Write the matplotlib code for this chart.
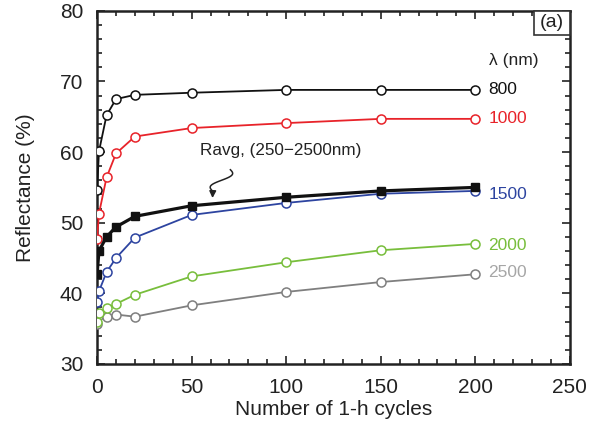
import matplotlib
matplotlib.use("Agg")
import matplotlib.pyplot as plt
import numpy as np
from matplotlib.ticker import MultipleLocator
from matplotlib.patches import Rectangle

plt.rcParams['font.family'] = ['Liberation Sans', 'DejaVu Sans']

cycles = [0, 1, 5, 10, 20, 50, 100, 150, 200]

r800 = [54.6, 60.1, 65.2, 67.5, 68.1, 68.4, 68.8, 68.8, 68.8]
r1000 = [47.7, 51.3, 56.4, 59.8, 62.2, 63.4, 64.1, 64.7, 64.7]
r1500 = [38.8, 40.3, 43.0, 45.0, 47.9, 51.1, 52.8, 54.1, 54.5]
r2000 = [36.0, 37.2, 37.9, 38.5, 39.8, 42.4, 44.4, 46.1, 47.0]
r2500 = [35.7, 37.0, 36.7, 37.0, 36.7, 38.3, 40.2, 41.6, 42.7]
ravg = [42.7, 46.0, 48.0, 49.4, 50.9, 52.4, 53.6, 54.5, 55.0]

labels = ['800', '1000', '1500', '2000', '2500']
colors = ['#111111', '#e8232a', '#2d44a0', '#78be3c', '#7f7f7f']
label_colors = ['#111111', '#e8232a', '#2d44a0', '#78be3c', '#a6a6a6']
label_y = [68.9, 64.7, 54.0, 46.8, 42.9]

fig = plt.figure(figsize=(6.03, 4.23), dpi=100)
ax = fig.add_axes([0.161, 0.1395, 0.784, 0.835])

for ys, c in zip([r2500, r2000, r1500, r1000, r800], colors[::-1]):
    ax.plot(cycles, ys, '-o', color=c, lw=1.3, ms=6.5, mfc='white', mec=c, mew=1.1, zorder=3)

ax.plot(cycles, ravg, '-s', color='#111111', lw=2.3, ms=6.3, zorder=4)

for lab, c, y in zip(labels, label_colors, label_y):
    ax.text(207, y, lab, color=c, fontsize=12.5, va='center', ha='left')
ax.text(207, 72.9, 'λ (nm)', fontsize=12.5, va='center', ha='left', color='#222222')

# squiggly pointer onto the average curve
t = np.linspace(0, 1, 60)
sx = 70.5 - 9.5 * t + 3.2 * np.sin(2 * np.pi * t)
sy = 57.5 - 3.0 * t
ax.plot(sx, sy, color='#222222', lw=1.1, zorder=5)
ax.annotate('', xy=(61, 53.1), xytext=(sx[-1] + 0.2, sy[-1] + 0.3),
            arrowprops=dict(arrowstyle='-|>', color='#222222', lw=1.1,
                            mutation_scale=10), zorder=5)
ax.text(97, 60.2, 'Ravg, (250\u22122500nm)', fontsize=12.3, ha='center', va='center',
        color='#222222')

# panel tag boxed into the top-right corner
ax.add_patch(Rectangle((0.924, 0.932), 0.076, 0.068, transform=ax.transAxes,
                       fc='white', ec='#333333', lw=1.2, zorder=6, clip_on=False))
ax.text(0.962, 0.966, '(a)', transform=ax.transAxes, fontsize=14, ha='center',
        va='center', color='#222222', zorder=7)

ax.set_xlim(0, 250)
ax.set_ylim(30, 80)
ax.xaxis.set_major_locator(MultipleLocator(50))
ax.xaxis.set_minor_locator(MultipleLocator(10))
ax.yaxis.set_major_locator(MultipleLocator(10))
ax.yaxis.set_minor_locator(MultipleLocator(2))
ax.tick_params(which='both', direction='in', top=True, right=True, labelsize=15,
               colors='#222222', width=1.2)
ax.tick_params(which='major', length=6)
ax.tick_params(which='minor', length=3.5)
ax.tick_params(axis='y', pad=10)
ax.tick_params(axis='x', pad=10)
for s in ax.spines.values():
    s.set_linewidth(1.8)
    s.set_color('#222222')

ax.set_xlabel('Number of 1-h cycles', fontsize=15, color='#222222', labelpad=2)
ax.set_ylabel('Reflectance (%)', fontsize=15, color='#222222', labelpad=18)

fig.savefig('out.png', dpi=100)
